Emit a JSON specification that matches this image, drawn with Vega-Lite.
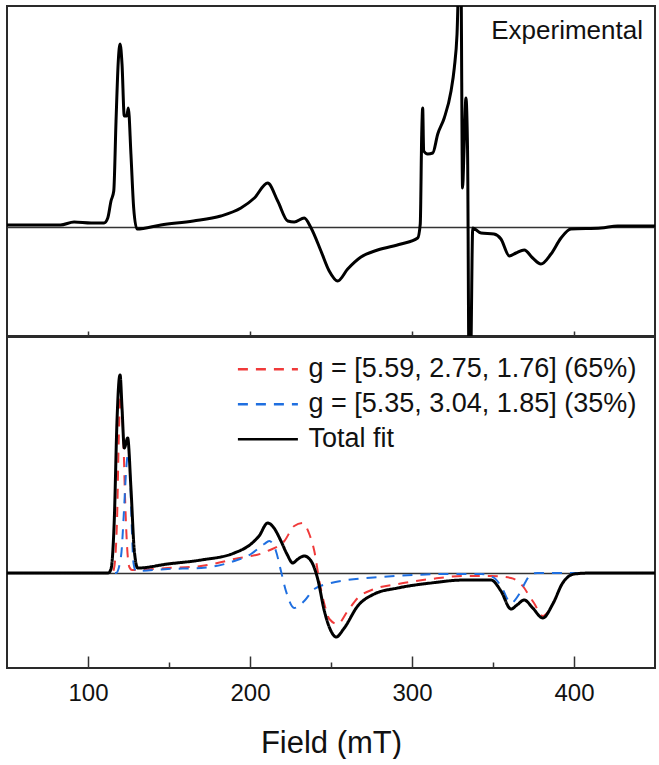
{
  "$schema": "https://vega.github.io/schema/vega-lite/v6.json",
  "padding": {"left": 6, "top": 5, "right": 5, "bottom": 0},
  "spacing": 1,
  "bounds": "flush",
  "config": {
    "view": {"stroke": "#2a2a2a", "strokeWidth": 2},
    "font": "Liberation Sans"
  },
  "datasets": {
    "exp": [
      {"mT": 50, "signal": 2}, {"mT": 71, "signal": 2}, {"mT": 83, "signal": 2}, {"mT": 91.4, "signal": 5},
      {"mT": 101.9, "signal": 4}, {"mT": 109.9, "signal": 4}, {"mT": 112.2, "signal": 9}, {"mT": 114.2, "signal": 26},
      {"mT": 115.9, "signal": 36}, {"mT": 117.3, "signal": 106}, {"mT": 118.7, "signal": 166}, {"mT": 119.8, "signal": 183},
      {"mT": 121, "signal": 163}, {"mT": 122.4, "signal": 111}, {"mT": 123.9, "signal": 111}, {"mT": 124.9, "signal": 119},
      {"mT": 126.5, "signal": 73}, {"mT": 128.2, "signal": 19}, {"mT": 130.2, "signal": -2}, {"mT": 145, "signal": 2},
      {"mT": 165, "signal": 6}, {"mT": 182, "signal": 11}, {"mT": 194.4, "signal": 19}, {"mT": 202.7, "signal": 29},
      {"mT": 210.9, "signal": 44}, {"mT": 217.1, "signal": 26}, {"mT": 223.3, "signal": 6}, {"mT": 227.3, "signal": 5},
      {"mT": 233.5, "signal": 9}, {"mT": 237.7, "signal": -1}, {"mT": 243.8, "signal": -24}, {"mT": 248.9, "signal": -44},
      {"mT": 254.1, "signal": -54}, {"mT": 260.3, "signal": -42}, {"mT": 268.5, "signal": -30}, {"mT": 278.8, "signal": -23},
      {"mT": 293.2, "signal": -17}, {"mT": 303.5, "signal": -11}, {"mT": 305.1, "signal": 3}, {"mT": 306, "signal": 93},
      {"mT": 306.6, "signal": 119}, {"mT": 307.2, "signal": 76}, {"mT": 309.7, "signal": 73}, {"mT": 312.8, "signal": 74},
      {"mT": 315.9, "signal": 93}, {"mT": 319.9, "signal": 109}, {"mT": 324.1, "signal": 136}, {"mT": 326.1, "signal": 159},
      {"mT": 327.8, "signal": 193}, {"mT": 329, "signal": 250}, {"mT": 330.2, "signal": 250}, {"mT": 331.2, "signal": 39},
      {"mT": 332.1, "signal": 76}, {"mT": 333.3, "signal": 129}, {"mT": 334.3, "signal": 76}, {"mT": 335.2, "signal": -140},
      {"mT": 336.1, "signal": -140}, {"mT": 337.5, "signal": -1}, {"mT": 342.6, "signal": -6}, {"mT": 350.6, "signal": -7},
      {"mT": 354.9, "signal": -12}, {"mT": 360.1, "signal": -29}, {"mT": 364.2, "signal": -26}, {"mT": 369.3, "signal": -23},
      {"mT": 374.5, "signal": -31}, {"mT": 379.6, "signal": -37}, {"mT": 385.8, "signal": -27}, {"mT": 392, "signal": -11},
      {"mT": 398.1, "signal": -2}, {"mT": 416.7, "signal": -1}, {"mT": 427, "signal": 1}, {"mT": 450, "signal": 1}
    ],
    "fit": [
      {"series": "g = [5.59, 2.75, 1.76] (65%)", "mT": 50, "signal": 0},
      {"series": "g = [5.59, 2.75, 1.76] (65%)", "mT": 114.8, "signal": 0},
      {"series": "g = [5.59, 2.75, 1.76] (65%)", "mT": 116, "signal": 4},
      {"series": "g = [5.59, 2.75, 1.76] (65%)", "mT": 117.9, "signal": 52},
      {"series": "g = [5.59, 2.75, 1.76] (65%)", "mT": 119.1, "signal": 142},
      {"series": "g = [5.59, 2.75, 1.76] (65%)", "mT": 120.1, "signal": 176},
      {"series": "g = [5.59, 2.75, 1.76] (65%)", "mT": 121, "signal": 162},
      {"series": "g = [5.59, 2.75, 1.76] (65%)", "mT": 121.8, "signal": 136},
      {"series": "g = [5.59, 2.75, 1.76] (65%)", "mT": 122.8, "signal": 79},
      {"series": "g = [5.59, 2.75, 1.76] (65%)", "mT": 124.1, "signal": 27},
      {"series": "g = [5.59, 2.75, 1.76] (65%)", "mT": 125.5, "signal": 6},
      {"series": "g = [5.59, 2.75, 1.76] (65%)", "mT": 127.2, "signal": 3},
      {"series": "g = [5.59, 2.75, 1.76] (65%)", "mT": 149.2, "signal": 5},
      {"series": "g = [5.59, 2.75, 1.76] (65%)", "mT": 169.8, "signal": 7},
      {"series": "g = [5.59, 2.75, 1.76] (65%)", "mT": 190.3, "signal": 14},
      {"series": "g = [5.59, 2.75, 1.76] (65%)", "mT": 210.9, "signal": 22},
      {"series": "g = [5.59, 2.75, 1.76] (65%)", "mT": 221.2, "signal": 32},
      {"series": "g = [5.59, 2.75, 1.76] (65%)", "mT": 227.3, "signal": 47},
      {"series": "g = [5.59, 2.75, 1.76] (65%)", "mT": 232.5, "signal": 50},
      {"series": "g = [5.59, 2.75, 1.76] (65%)", "mT": 236.6, "signal": 39},
      {"series": "g = [5.59, 2.75, 1.76] (65%)", "mT": 239.7, "signal": 22},
      {"series": "g = [5.59, 2.75, 1.76] (65%)", "mT": 242.8, "signal": -8},
      {"series": "g = [5.59, 2.75, 1.76] (65%)", "mT": 245.9, "signal": -31},
      {"series": "g = [5.59, 2.75, 1.76] (65%)", "mT": 249, "signal": -46},
      {"series": "g = [5.59, 2.75, 1.76] (65%)", "mT": 254.1, "signal": -51},
      {"series": "g = [5.59, 2.75, 1.76] (65%)", "mT": 260.3, "signal": -38},
      {"series": "g = [5.59, 2.75, 1.76] (65%)", "mT": 266.5, "signal": -25},
      {"series": "g = [5.59, 2.75, 1.76] (65%)", "mT": 276.7, "signal": -16},
      {"series": "g = [5.59, 2.75, 1.76] (65%)", "mT": 291.2, "signal": -11},
      {"series": "g = [5.59, 2.75, 1.76] (65%)", "mT": 311.7, "signal": -6},
      {"series": "g = [5.59, 2.75, 1.76] (65%)", "mT": 332.3, "signal": -3},
      {"series": "g = [5.59, 2.75, 1.76] (65%)", "mT": 348.8, "signal": -3},
      {"series": "g = [5.59, 2.75, 1.76] (65%)", "mT": 361.1, "signal": -5},
      {"series": "g = [5.59, 2.75, 1.76] (65%)", "mT": 365.2, "signal": -8},
      {"series": "g = [5.59, 2.75, 1.76] (65%)", "mT": 369.3, "signal": -15},
      {"series": "g = [5.59, 2.75, 1.76] (65%)", "mT": 372.4, "signal": -23},
      {"series": "g = [5.59, 2.75, 1.76] (65%)", "mT": 375.3, "signal": -30},
      {"series": "g = [5.59, 2.75, 1.76] (65%)", "mT": 380.7, "signal": -43},
      {"series": "g = [5.59, 2.75, 1.76] (65%)", "mT": 386.9, "signal": -31},
      {"series": "g = [5.59, 2.75, 1.76] (65%)", "mT": 393, "signal": -10},
      {"series": "g = [5.59, 2.75, 1.76] (65%)", "mT": 400.2, "signal": -1},
      {"series": "g = [5.59, 2.75, 1.76] (65%)", "mT": 410, "signal": 0},
      {"series": "g = [5.59, 2.75, 1.76] (65%)", "mT": 450, "signal": 0},
      {"series": "g = [5.35, 3.04, 1.85] (35%)", "mT": 50, "signal": 0},
      {"series": "g = [5.35, 3.04, 1.85] (35%)", "mT": 117.3, "signal": 0},
      {"series": "g = [5.35, 3.04, 1.85] (35%)", "mT": 120.4, "signal": 17},
      {"series": "g = [5.35, 3.04, 1.85] (35%)", "mT": 122.2, "signal": 62},
      {"series": "g = [5.35, 3.04, 1.85] (35%)", "mT": 123.5, "signal": 102},
      {"series": "g = [5.35, 3.04, 1.85] (35%)", "mT": 125, "signal": 122},
      {"series": "g = [5.35, 3.04, 1.85] (35%)", "mT": 125.9, "signal": 102},
      {"series": "g = [5.35, 3.04, 1.85] (35%)", "mT": 126.9, "signal": 52},
      {"series": "g = [5.35, 3.04, 1.85] (35%)", "mT": 128.1, "signal": 10},
      {"series": "g = [5.35, 3.04, 1.85] (35%)", "mT": 129.6, "signal": 2},
      {"series": "g = [5.35, 3.04, 1.85] (35%)", "mT": 149.2, "signal": 4},
      {"series": "g = [5.35, 3.04, 1.85] (35%)", "mT": 169.8, "signal": 5},
      {"series": "g = [5.35, 3.04, 1.85] (35%)", "mT": 190.3, "signal": 12},
      {"series": "g = [5.35, 3.04, 1.85] (35%)", "mT": 200.6, "signal": 19},
      {"series": "g = [5.35, 3.04, 1.85] (35%)", "mT": 208.8, "signal": 29},
      {"series": "g = [5.35, 3.04, 1.85] (35%)", "mT": 211.9, "signal": 32},
      {"series": "g = [5.35, 3.04, 1.85] (35%)", "mT": 216, "signal": 22},
      {"series": "g = [5.35, 3.04, 1.85] (35%)", "mT": 219.1, "signal": 2},
      {"series": "g = [5.35, 3.04, 1.85] (35%)", "mT": 222.2, "signal": -18},
      {"series": "g = [5.35, 3.04, 1.85] (35%)", "mT": 227.3, "signal": -35},
      {"series": "g = [5.35, 3.04, 1.85] (35%)", "mT": 233.5, "signal": -28},
      {"series": "g = [5.35, 3.04, 1.85] (35%)", "mT": 239.7, "signal": -16},
      {"series": "g = [5.35, 3.04, 1.85] (35%)", "mT": 250, "signal": -10},
      {"series": "g = [5.35, 3.04, 1.85] (35%)", "mT": 260.3, "signal": -7},
      {"series": "g = [5.35, 3.04, 1.85] (35%)", "mT": 280.9, "signal": -4},
      {"series": "g = [5.35, 3.04, 1.85] (35%)", "mT": 301.4, "signal": -2},
      {"series": "g = [5.35, 3.04, 1.85] (35%)", "mT": 322, "signal": -1},
      {"series": "g = [5.35, 3.04, 1.85] (35%)", "mT": 342.6, "signal": -1},
      {"series": "g = [5.35, 3.04, 1.85] (35%)", "mT": 350.8, "signal": -5},
      {"series": "g = [5.35, 3.04, 1.85] (35%)", "mT": 354.9, "signal": -13},
      {"series": "g = [5.35, 3.04, 1.85] (35%)", "mT": 361.1, "signal": -30},
      {"series": "g = [5.35, 3.04, 1.85] (35%)", "mT": 366.2, "signal": -21},
      {"series": "g = [5.35, 3.04, 1.85] (35%)", "mT": 370.4, "signal": -8},
      {"series": "g = [5.35, 3.04, 1.85] (35%)", "mT": 373.5, "signal": -1},
      {"series": "g = [5.35, 3.04, 1.85] (35%)", "mT": 377.5, "signal": 0},
      {"series": "g = [5.35, 3.04, 1.85] (35%)", "mT": 450, "signal": 0},
      {"series": "Total fit", "mT": 50, "signal": 0},
      {"series": "Total fit", "mT": 112.5, "signal": 0},
      {"series": "Total fit", "mT": 114.2, "signal": 4},
      {"series": "Total fit", "mT": 116.2, "signal": 52},
      {"series": "Total fit", "mT": 117.9, "signal": 152},
      {"series": "Total fit", "mT": 119.3, "signal": 195},
      {"series": "Total fit", "mT": 119.8, "signal": 198},
      {"series": "Total fit", "mT": 121, "signal": 165},
      {"series": "Total fit", "mT": 122.4, "signal": 125},
      {"series": "Total fit", "mT": 124.5, "signal": 135},
      {"series": "Total fit", "mT": 126.5, "signal": 85},
      {"series": "Total fit", "mT": 128.6, "signal": 22},
      {"series": "Total fit", "mT": 130.7, "signal": 5},
      {"series": "Total fit", "mT": 149.2, "signal": 9},
      {"series": "Total fit", "mT": 169.8, "signal": 13},
      {"series": "Total fit", "mT": 190.3, "signal": 20},
      {"series": "Total fit", "mT": 200.6, "signal": 29},
      {"series": "Total fit", "mT": 205.6, "signal": 37},
      {"series": "Total fit", "mT": 210.9, "signal": 50},
      {"series": "Total fit", "mT": 214.8, "signal": 45},
      {"series": "Total fit", "mT": 219.1, "signal": 32},
      {"series": "Total fit", "mT": 222.8, "signal": 19},
      {"series": "Total fit", "mT": 226.4, "signal": 10},
      {"series": "Total fit", "mT": 229.6, "signal": 14},
      {"series": "Total fit", "mT": 233.5, "signal": 17},
      {"series": "Total fit", "mT": 237.7, "signal": 12},
      {"series": "Total fit", "mT": 241.8, "signal": -6},
      {"series": "Total fit", "mT": 245.9, "signal": -38},
      {"series": "Total fit", "mT": 250, "signal": -58},
      {"series": "Total fit", "mT": 253.1, "signal": -64},
      {"series": "Total fit", "mT": 258.2, "signal": -55},
      {"series": "Total fit", "mT": 266.5, "signal": -33},
      {"series": "Total fit", "mT": 276.7, "signal": -21},
      {"series": "Total fit", "mT": 291.2, "signal": -15},
      {"series": "Total fit", "mT": 311.7, "signal": -10},
      {"series": "Total fit", "mT": 332.3, "signal": -7},
      {"series": "Total fit", "mT": 348.8, "signal": -7},
      {"series": "Total fit", "mT": 354.9, "signal": -18},
      {"series": "Total fit", "mT": 361.1, "signal": -36},
      {"series": "Total fit", "mT": 364.8, "signal": -32},
      {"series": "Total fit", "mT": 369.3, "signal": -27},
      {"series": "Total fit", "mT": 374.5, "signal": -35},
      {"series": "Total fit", "mT": 380.7, "signal": -45},
      {"series": "Total fit", "mT": 386.9, "signal": -31},
      {"series": "Total fit", "mT": 393, "signal": -10},
      {"series": "Total fit", "mT": 400.2, "signal": -1},
      {"series": "Total fit", "mT": 410, "signal": 0},
      {"series": "Total fit", "mT": 450, "signal": 0}
    ]
  },
  "vconcat": [
    {
      "width": 648,
      "height": 330,
      "title": {"text": "Experimental", "anchor": "end", "orient": "top", "offset": -38, "dx": -12, "fontSize": 26, "fontWeight": "normal", "font": "Liberation Sans", "color": "#111111"},
      "data": {"name": "exp"},
      "mark": {"type": "line", "color": "#000000", "strokeWidth": 3, "interpolate": "monotone", "clip": true},
      "encoding": {
        "x": {"field": "mT", "type": "quantitative", "scale": {"domain": [50, 450], "nice": false, "zero": false},
          "axis": {"values": [100, 200, 300, 400], "labels": false, "domain": false, "grid": false, "tickSize": -5, "tickColor": "#333333", "tickWidth": 1.5, "title": null}},
        "y": {"field": "signal", "type": "quantitative", "scale": {"domain": [-109, 221], "nice": false, "zero": false},
          "axis": {"values": [0], "grid": true, "gridColor": "#333333", "gridWidth": 1.5, "ticks": false, "labels": false, "domain": false, "title": null}}
      }
    },
    {
      "width": 648,
      "height": 331,
      "data": {"name": "fit"},
      "resolve": {"axis": {"x": "independent"}},
      "layer": [
        {
          "transform": [{"filter": "datum.series !== 'Total fit'"}],
          "mark": {"type": "line", "strokeWidth": 2, "interpolate": "monotone", "clip": true},
          "encoding": {
            "x": {"field": "mT", "type": "quantitative", "scale": {"domain": [50, 450], "nice": false, "zero": false},
              "axis": {"orient": "bottom", "values": [100, 200, 300, 400], "domain": false, "grid": false, "tickSize": -12,
                "tickColor": "#333333", "tickWidth": 1.5, "labelFontSize": 24, "labelFont": "Liberation Sans", "labelColor": "#111111", "labelPadding": 25,
                "title": "Field (mT)", "titleFontSize": 31, "titleFontWeight": "normal", "titleFont": "Liberation Sans", "titleColor": "#111111", "titlePadding": 23}},
            "y": {"field": "signal", "type": "quantitative", "scale": {"domain": [-95, 236], "nice": false, "zero": false},
              "axis": {"values": [0], "grid": true, "gridColor": "#333333", "gridWidth": 1.5, "ticks": false, "labels": false, "domain": false, "title": null}},
            "color": {"field": "series", "type": "nominal",
              "scale": {"domain": ["g = [5.59, 2.75, 1.76] (65%)", "g = [5.35, 3.04, 1.85] (35%)", "Total fit"], "range": ["#f03a3a", "#1f6fe0", "#000000"]},
              "legend": {"orient": "none", "legendX": 247.4, "legendY": 349.7, "title": null, "padding": 0, "symbolType": "M-3,0H3", "symbolSize": 400, "symbolStrokeWidth": 2.5, "labelOffset": 27, "labelFontSize": 27, "labelFont": "Liberation Sans", "labelColor": "#111111", "labelLimit": 500, "rowPadding": 7}},
            "strokeDash": {"field": "series", "type": "nominal",
              "scale": {"domain": ["g = [5.59, 2.75, 1.76] (65%)", "g = [5.35, 3.04, 1.85] (35%)", "Total fit"], "range": [[10, 8], [10, 8], [1, 0]]}}
          }
        },
        {
          "transform": [{"filter": "datum.series === 'Total fit'"}],
          "mark": {"type": "line", "strokeWidth": 3, "interpolate": "monotone", "clip": true},
          "encoding": {
            "x": {"field": "mT", "type": "quantitative",
              "axis": {"orient": "bottom", "values": [150, 250, 350], "labels": false, "domain": false, "grid": false, "tickSize": -6, "tickColor": "#333333", "tickWidth": 1.5, "title": null}},
            "y": {"field": "signal", "type": "quantitative"},
            "color": {"field": "series", "type": "nominal"},
            "strokeDash": {"field": "series", "type": "nominal"}
          }
        }
      ]
    }
  ]
}
